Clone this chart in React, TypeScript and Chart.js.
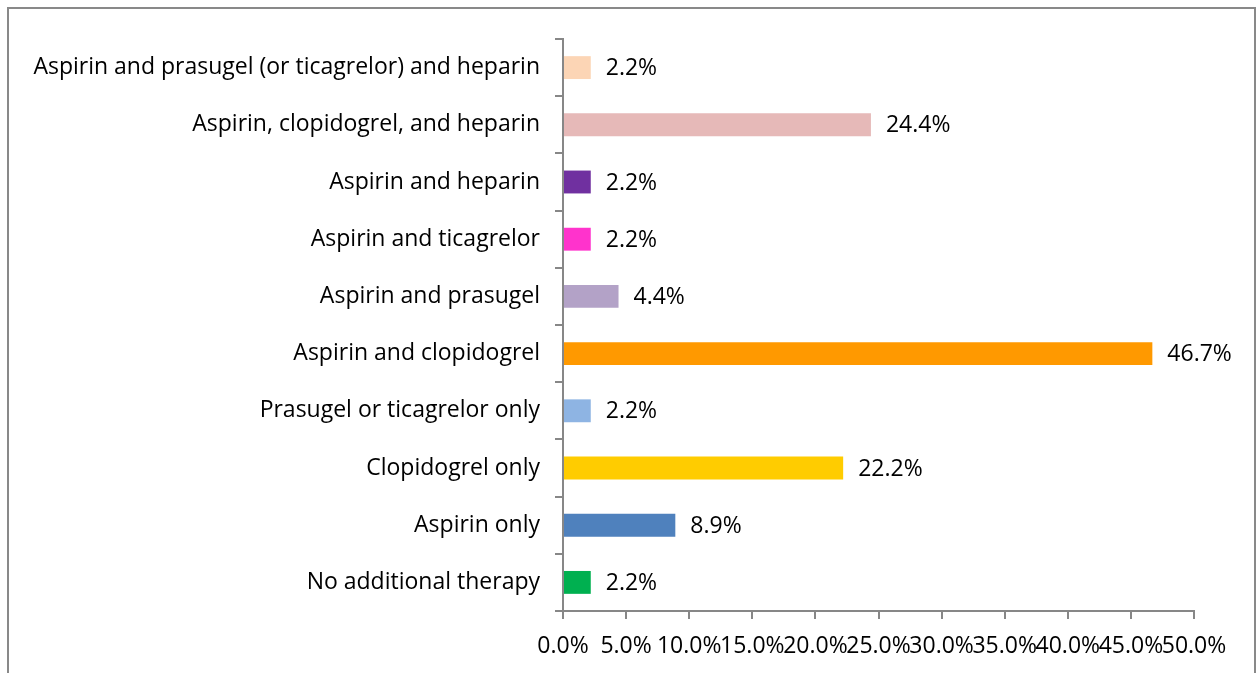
import React, { useEffect, useRef } from "react";
import { Chart, registerables } from "chart.js";

Chart.register(...registerables);

const categories = [
  "Aspirin and prasugel (or ticagrelor) and heparin",
  "Aspirin, clopidogrel, and heparin",
  "Aspirin and heparin",
  "Aspirin and ticagrelor",
  "Aspirin and prasugel",
  "Aspirin and clopidogrel",
  "Prasugel or ticagrelor only",
  "Clopidogrel only",
  "Aspirin only",
  "No additional therapy",
];
const values = [2.2, 24.4, 2.2, 2.2, 4.4, 46.7, 2.2, 22.2, 8.9, 2.2];
const barColors = [
  "#FCD5B5",
  "#E6B9B8",
  "#7030A0",
  "#FF33CC",
  "#B3A2C7",
  "#FF9900",
  "#8EB4E3",
  "#FFCC00",
  "#4F81BD",
  "#00B050",
];
const xTickMin = 0;
const xTickMax = 50;
const xTickStep = 5;

const FONT = "'Open Sans', sans-serif";
const FONT_SIZE = 23;
const AXIS_COLOR = "#878787";

export default function App() {
  const ref = useRef<HTMLCanvasElement | null>(null);

  useEffect(() => {
    if (!ref.current) return;
    const framePlugin = {
      id: "frame",
      beforeDraw(chart: any) {
        const ctx = chart.ctx;
        ctx.save();
        ctx.fillStyle = "#ffffff";
        ctx.fillRect(0, 0, chart.width, chart.height);
        ctx.strokeStyle = "#898989";
        ctx.lineWidth = 2;
        ctx.beginPath();
        ctx.moveTo(8, chart.height + 5);
        ctx.lineTo(8, 8);
        ctx.lineTo(1255, 8);
        ctx.lineTo(1255, chart.height + 5);
        ctx.stroke();
        ctx.restore();
      },
    };
    const labelPlugin = {
      id: "valueLabels",
      afterDatasetsDraw(chart: any) {
        const ctx = chart.ctx;
        const meta = chart.getDatasetMeta(0);
        ctx.save();
        ctx.font = `${FONT_SIZE}px ${FONT}`;
        ctx.fillStyle = "#000000";
        ctx.textAlign = "left";
        ctx.textBaseline = "middle";
        meta.data.forEach((bar: any, i: number) => {
          const v = chart.data.datasets[0].data[i] as number;
          ctx.fillText(v.toFixed(1) + "%", bar.x + 15, bar.y + 1);
        });
        ctx.restore();
      },
    };
    const chart = new Chart(ref.current, {
      type: "bar",
      data: {
        labels: categories,
        datasets: [
          {
            data: values,
            backgroundColor: barColors,
            borderWidth: 0,
            barPercentage: 0.4,
            categoryPercentage: 1,
          },
        ],
      },
      options: {
        indexAxis: "y",
        animation: false,
        responsive: false,
        layout: { padding: { top: 39, right: 64, bottom: 0, left: 0 } },
        plugins: {
          legend: { display: false },
          tooltip: { enabled: false },
        },
        scales: {
          x: {
            min: xTickMin,
            max: xTickMax,
            ticks: {
              stepSize: xTickStep,
              color: "#000",
              font: { family: FONT, size: FONT_SIZE },
              padding: 14,
              maxRotation: 0,
              autoSkip: false,
              callback: (v: any) => Number(v).toFixed(1) + "%",
            },
            grid: {
              drawOnChartArea: false,
              drawTicks: true,
              tickLength: 8,
              color: AXIS_COLOR,
              lineWidth: 2,
            },
            border: { display: true, color: AXIS_COLOR, width: 2 },
            afterFit: (s: any) => {
              s.height = 62;
            },
          },
          y: {
            ticks: {
              color: "#000",
              font: { family: FONT, size: FONT_SIZE },
              padding: 15,
              autoSkip: false,
            },
            grid: {
              drawOnChartArea: false,
              drawTicks: true,
              tickLength: 8,
              color: AXIS_COLOR,
              lineWidth: 2,
              offset: true,
            },
            border: { display: true, color: AXIS_COLOR, width: 2 },
            afterFit: (s: any) => {
              s.width = 563;
            },
          },
        },
      },
      plugins: [framePlugin, labelPlugin],
    });
    return () => chart.destroy();
  }, []);

  return (
    <div style={{ position: "fixed", left: 0, top: 0, width: 1258, height: 673 }}>
      <canvas ref={ref} width={1258} height={673} style={{ display: "block" }} />
    </div>
  );
}
